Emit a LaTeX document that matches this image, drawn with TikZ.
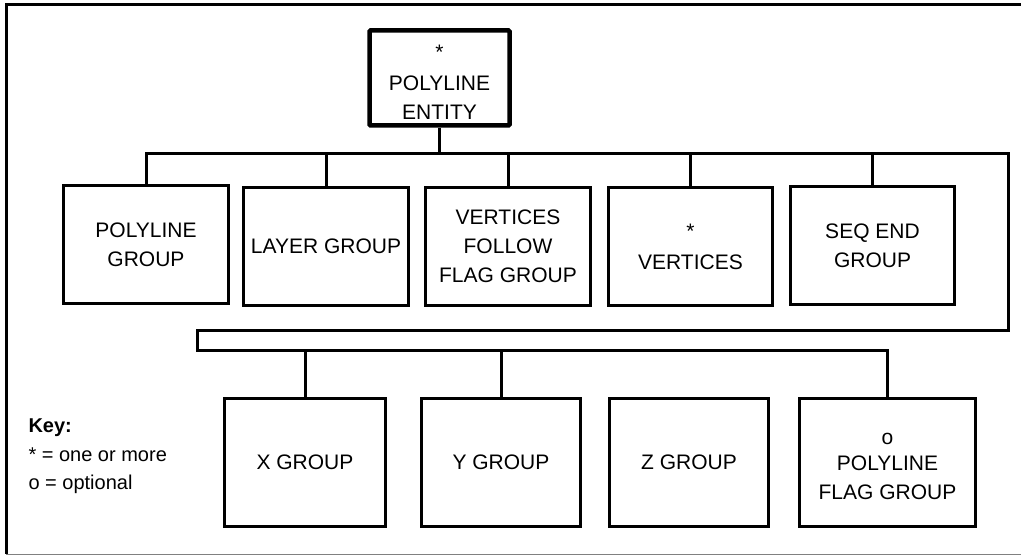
\documentclass[tikz,border=0pt]{standalone}
\usepackage{fontspec}
\setmainfont{Liberation Sans}
\begin{document}
\begin{tikzpicture}
	[x=1pt, y=-1pt, line width=3pt,
	every node/.style={font=\fontsize{21}{29}\selectfont, align=center, inner sep=0pt},
	grp/.style={draw, line width=3pt, minimum height=118pt},
	top/.style={draw, line width=4.5pt, minimum width=140pt, minimum height=95pt, rounded corners=1pt}]
	\useasboundingbox (0,0) rectangle (1021,556);
	\draw (1021,5) -- (6,5) -- (6,554);
	\draw[line width=1pt, gray] (6,554) -- (1021,554);

	\node[top] (pe) at (439.5,78) {\rule{0pt}{24pt}*\\[2pt]POLYLINE\\ENTITY};

	\node[grp, minimum width=165pt] (pg) at (146,245) {POLYLINE\\GROUP};
	\node[grp, minimum width=165pt] (lg) at (326,246.5) {LAYER GROUP};
	\node[grp, minimum width=165pt] (vf) at (508,246.5) {VERTICES\\FOLLOW\\FLAG GROUP};
	\node[grp, minimum width=164pt] (vx) at (690.5,246.5) {*\\[2pt]VERTICES};
	\node[grp, minimum width=164pt] (se) at (872.5,245.5) {SEQ END\\GROUP};

	\node[grp, minimum width=161pt, minimum height=128pt] (xg) at (305,462.5) {X GROUP};
	\node[grp, minimum width=159pt, minimum height=128pt] (yg) at (501,462.5) {Y GROUP};
	\node[grp, minimum width=159pt, minimum height=128pt] (zg) at (689,462.5) {Z GROUP};
	\node[grp, minimum width=176pt, minimum height=128pt] (pf) at (887.5,462.5) {\rule{0pt}{20pt}o\\[-3pt]POLYLINE\\FLAG GROUP};

	\node[anchor=west, align=left, font=\fontsize{20}{28.5}\selectfont] (key) at (27,456.5) {\textbf{Key:}\\* = one or more\\o = optional};

	\coordinate (r1) at (1008,154);
	\coordinate (r2) at (1008,331);
	\coordinate (l1) at (197,331);
	\coordinate (l2) at (197,351);

	\draw (pe) -- (pe |- r1);
	\draw (pg) |- (r1) -- (r2) -- (l1) -- (l2) -| (pf);
	\draw (lg) -- (lg |- r1);
	\draw (vf) -- (vf |- r1);
	\draw (vx) -- (vx |- r1);
	\draw (se) -- (se |- r1);
	\draw (xg) -- (xg |- l2);
	\draw (yg) -- (yg |- l2);
\end{tikzpicture}
\end{document}
